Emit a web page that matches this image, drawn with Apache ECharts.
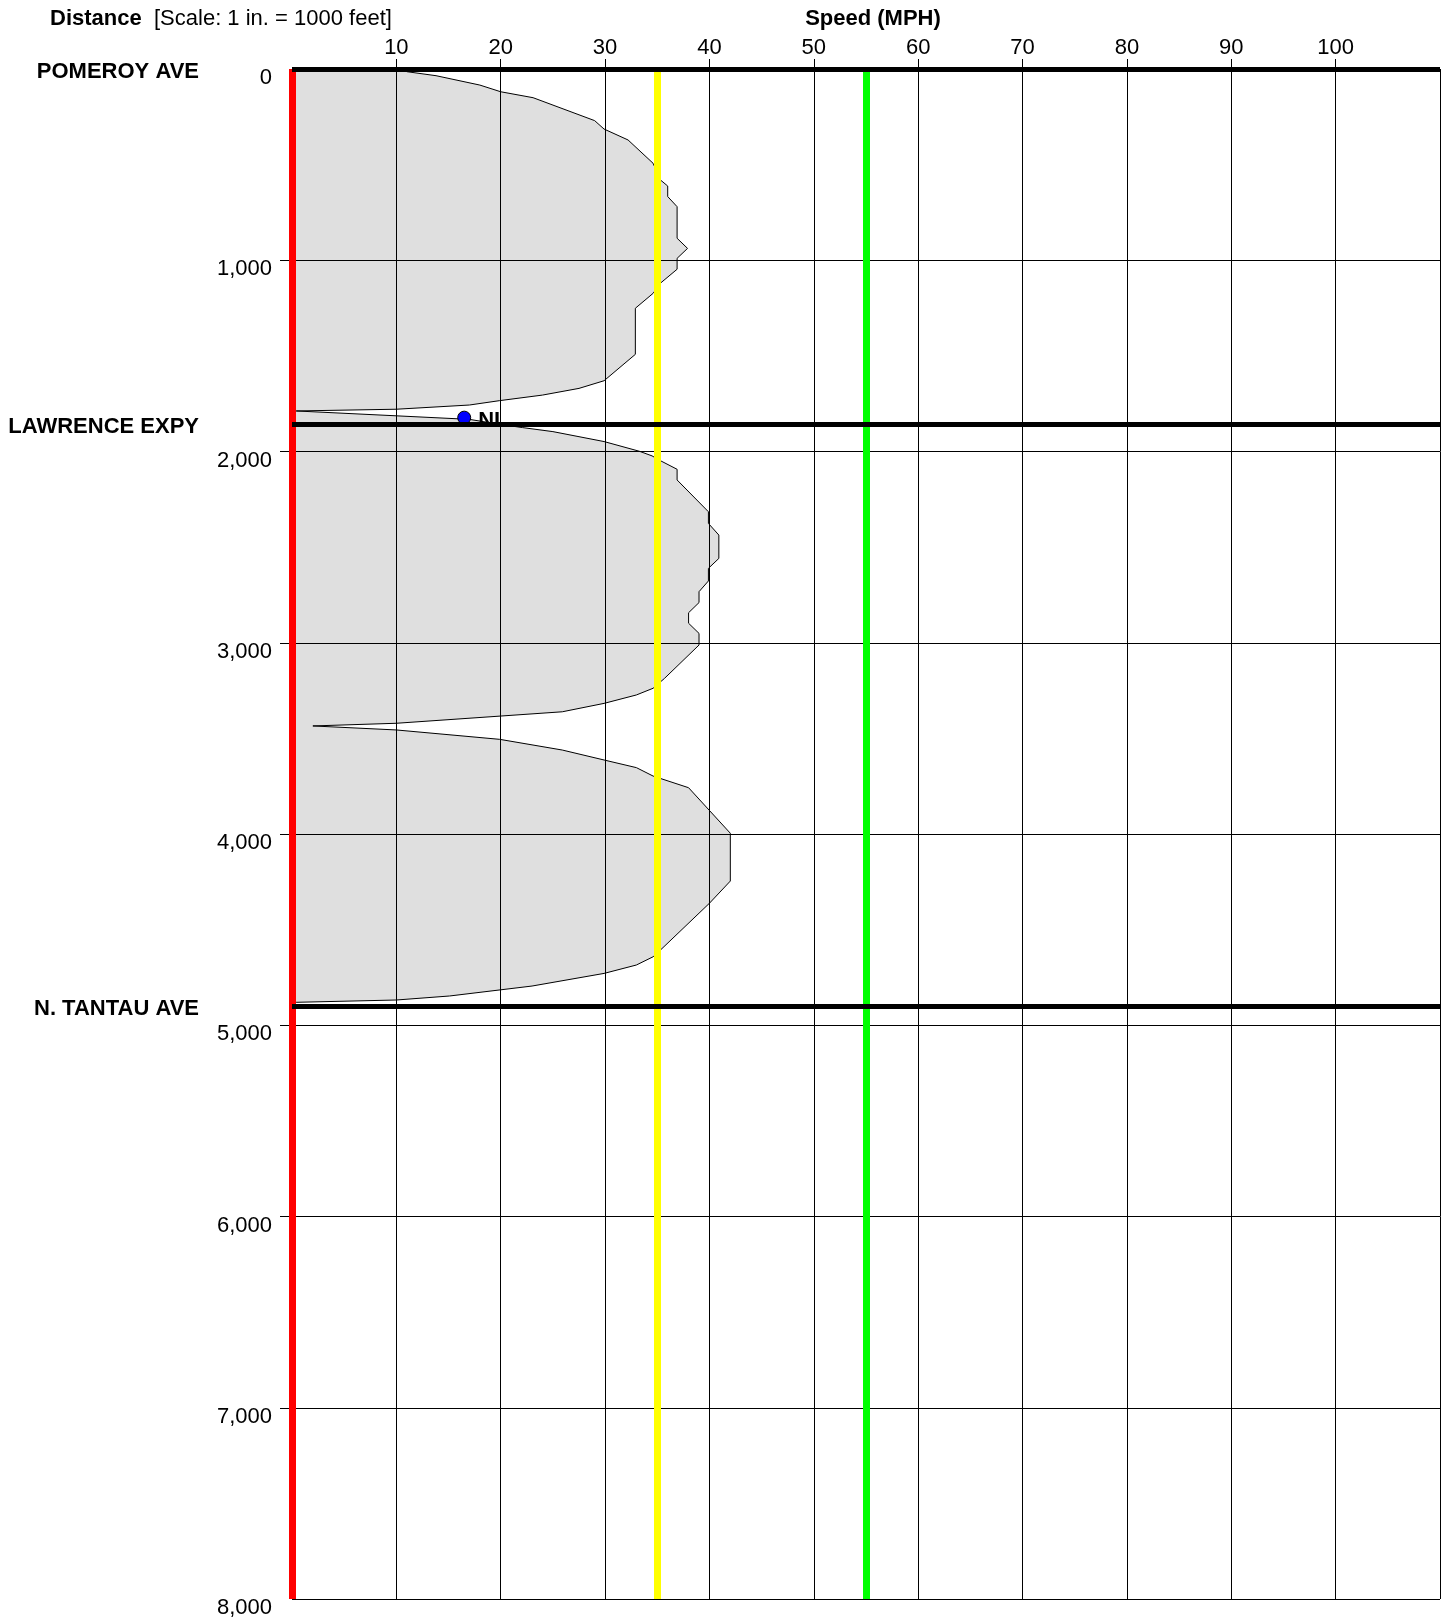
<!DOCTYPE html>
<html>
<head>
<meta charset="utf-8">
<title>Speed profile</title>
<script src="https://cdn.jsdelivr.net/npm/echarts@6/dist/echarts.min.js"></script>
<style>
    html, body { margin: 0; padding: 0; background: #fff; }
    #chart { width: 1444px; height: 1619px; }
</style>
</head>
<body>
<div id="chart"></div>
<script>
// perfil de velocidade (MPH) ao longo da distancia (pes)
var distFt = [
    0, 0, 14, 35, 84, 119, 150, 270, 314, 371, 493, 580, 612, 667, 720, 885, 938, 990, 1047,
    1120, 1173, 1251, 1492, 1630, 1670, 1705, 1734, 1757, 1779, 1788,
    1832, 1858, 1875, 1896, 1948, 1999, 2023, 2048, 2093, 2149, 2315, 2376, 2437, 2559,
    2611, 2677, 2733, 2790, 2843, 2898, 2951, 3012, 3186, 3238, 3273, 3317, 3361, 3421, 3435,
    3456, 3505, 3561, 3613, 3653, 3697, 3758, 3996, 4246, 4362, 4607, 4642, 4685, 4729,
    4795, 4847, 4868, 4880, 4880
];
var speedMph = [
    0, 11.0, 11.0, 13.8, 18.0, 20.0, 23.1, 29.0, 29.9, 32.2, 34.6, 35.3, 36.0, 36.0, 36.9, 36.9, 37.9, 36.9, 36.9,
    35.3, 34.6, 32.9, 32.9, 29.9, 27.5, 24.0, 19.9, 17.0, 10.0, 0.4,
    17.0, 19.9, 22.1, 25.0, 29.9, 33.3, 34.5, 35.3, 36.9, 36.9, 39.9, 39.9, 40.9, 40.9,
    39.9, 39.9, 39.0, 39.0, 38.0, 38.0, 39.0, 39.0, 35.7, 34.6, 33.0, 29.9, 25.9, 10.0, 2.0,
    10.0, 19.9, 25.9, 29.9, 33.0, 34.6, 38.0, 42.0, 42.0, 40.0, 35.3, 34.6, 33.0, 29.9,
    23.0, 15.1, 10.0, 0.4, 0
];

// cruzamentos
var streetNames = ['POMEROY AVE', 'LAWRENCE EXPY', 'N. TANTAU AVE'];
var streetDist = [0, 1860, 4900];

// linhas de referencia de velocidade
var refSpeeds = [0, 35, 55];
var refColors = ['#ff0000', '#ffff00', '#00ff00'];

// marcador NI
var markerSpeed = [16.5];
var markerDist = [1823];
var markerLabel = ['NI'];

var speedTicks = [10, 20, 30, 40, 50, 60, 70, 80, 90, 100];
var distTicks = [1000, 2000, 3000, 4000, 5000, 6000, 7000];

var FONT = 'Liberation Sans, Arial, sans-serif';

var chart = echarts.init(document.getElementById('chart'));

var lines = [];
refSpeeds.forEach(function (s, i) {
    lines.push({ xAxis: s, lineStyle: { color: refColors[i], width: 7, type: 'solid' } });
});
lines.push({ xAxis: 110, lineStyle: { color: '#000', width: 1, type: 'solid' } });
lines.push({ yAxis: 8000, lineStyle: { color: '#000', width: 1, type: 'solid' } });
streetDist.forEach(function (d) {
    lines.push({ yAxis: d, lineStyle: { color: '#000', width: 5, type: 'solid' } });
});

var option = {
    animation: false,
    textStyle: { fontFamily: FONT },
    grid: { left: 292, right: 4, top: 69, bottom: 20 },
    graphic: [
        { type: 'text', x: 50, y: 18.5, style: { text: 'Distance', font: 'bold 22px ' + FONT, fill: '#000', verticalAlign: 'middle' } },
        { type: 'text', x: 154, y: 18.5, style: { text: '[Scale: 1 in. = 1000 feet]', font: '22px ' + FONT, fill: '#000', verticalAlign: 'middle' } },
        { type: 'text', x: 873, y: 18.5, style: { text: 'Speed (MPH)', font: 'bold 22px ' + FONT, fill: '#000', align: 'center', verticalAlign: 'middle' } }
    ],
    xAxis: {
        type: 'value',
        position: 'top',
        min: 0,
        max: 110,
        interval: 10,
        z: 3,
        axisLine: { show: false },
        axisTick: { show: true, length: 10, customValues: speedTicks, lineStyle: { color: '#000' } },
        axisLabel: { customValues: speedTicks, fontSize: 22, color: '#000', margin: 10, fontFamily: FONT },
        splitLine: { show: true, lineStyle: { color: '#000', width: 1 } }
    },
    yAxis: [
        {
            type: 'value',
            inverse: true,
            min: 0,
            max: 8000,
            interval: 1000,
            z: 3,
            axisLine: { show: false },
            axisTick: { show: true, length: 12, customValues: distTicks, lineStyle: { color: '#000' } },
            axisLabel: {
                fontSize: 22,
                color: '#000',
                margin: 20,
                verticalAlign: 'top',
                lineHeight: 18,
                fontFamily: FONT,
                formatter: function (v) { return v.toLocaleString('en-US'); }
            },
            splitLine: { show: true, lineStyle: { color: '#000', width: 1 } }
        },
        {
            type: 'value',
            position: 'left',
            inverse: true,
            min: 0,
            max: 8000,
            z: 3,
            axisLine: { show: false },
            axisTick: { show: false },
            splitLine: { show: false },
            axisLabel: {
                customValues: streetDist,
                fontSize: 22,
                fontWeight: 'bold',
                color: '#000',
                margin: 93,
                verticalAlign: 'top',
                lineHeight: 5,
                fontFamily: FONT,
                formatter: function (v) { return streetNames[streetDist.indexOf(v)]; }
            }
        }
    ],
    series: [
        {
            type: 'custom',
            z: 2,
            silent: true,
            data: speedMph.map(function (s, i) { return [s, distFt[i]]; }),
            encode: { x: 0, y: 1 },
            renderItem: function (params, api) {
                if (params.dataIndex !== 0) return null;
                var pts = speedMph.map(function (s, i) {
                    return api.coord([s, distFt[i]]);
                });
                return {
                    type: 'polygon',
                    shape: { points: pts },
                    style: { fill: '#dfdfdf', stroke: '#000', lineWidth: 1 }
                };
            }
        },
        {
            type: 'scatter',
            z: 2,
            symbol: 'circle',
            symbolSize: 13,
            data: markerSpeed.map(function (s, i) { return [s, markerDist[i]]; }),
            itemStyle: { color: '#0000ff', borderColor: '#000', borderWidth: 1, opacity: 1 },
            label: {
                show: true,
                position: 'right',
                distance: 7,
                offset: [0, 3],
                fontSize: 22,
                fontWeight: 'bold',
                color: '#000',
                fontFamily: FONT,
                formatter: function (p) { return markerLabel[p.dataIndex]; }
            },
            markLine: {
                silent: true,
                symbol: ['none', 'none'],
                label: { show: false },
                data: lines
            }
        }
    ]
};

chart.setOption(option);
</script>
</body>
</html>
